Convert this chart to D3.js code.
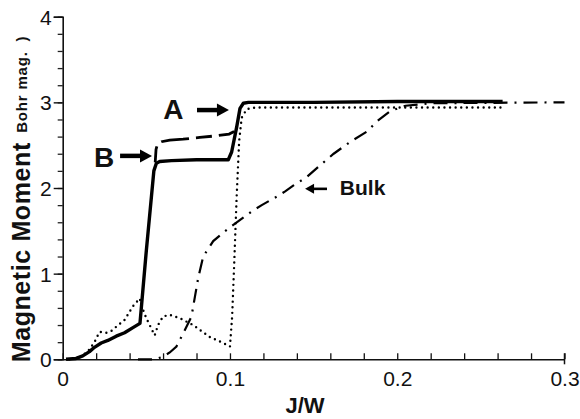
<!DOCTYPE html>
<html>
<head>
<meta charset="utf-8">
<script src="https://cdn.jsdelivr.net/npm/d3@7"></script>
<style>
  html, body { margin: 0; padding: 0; background: #fff; }
  svg { display: block; }
  text { font-family: "Liberation Sans", Arial, sans-serif; fill: #111; }
</style>
</head>
<body>
<div id="chart"></div>
<script>
const WIDTH = 580
const HEIGHT = 419

// curve A (solid)
const solidJ = [0.002, 0.008, 0.012, 0.016, 0.019, 0.023, 0.027, 0.032, 0.037, 0.042, 0.0462, 0.050, 0.0545, 0.056, 0.058, 0.065, 0.08, 0.099, 0.101, 0.104, 0.106, 0.108, 0.111, 0.15, 0.2, 0.263]
const solidM = [0, 0.01, 0.04, 0.09, 0.14, 0.19, 0.22, 0.27, 0.31, 0.37, 0.42, 1.27, 2.2, 2.29, 2.31, 2.32, 2.33, 2.33, 2.42, 2.71, 2.93, 2.99, 3.0, 3.0, 3.01, 3.01]

// curve B (dashed), splits from A at the first jump
const dashJ = [0.0553, 0.0558, 0.0568, 0.059, 0.064, 0.072, 0.082, 0.092, 0.0995, 0.1025]
const dashM = [2.3, 2.45, 2.52, 2.54, 2.56, 2.57, 2.59, 2.61, 2.63, 2.66]

// dotted curve
const dotJ = [0.004, 0.01, 0.015, 0.019, 0.022, 0.026, 0.029, 0.032, 0.037, 0.042, 0.046, 0.048, 0.05, 0.053, 0.055, 0.057, 0.06, 0.064, 0.07, 0.078, 0.088, 0.096, 0.1, 0.1013, 0.1025, 0.104, 0.1055, 0.107, 0.11, 0.115, 0.15, 0.2, 0.262]
const dotM = [0, 0.02, 0.09, 0.2, 0.32, 0.31, 0.33, 0.38, 0.46, 0.62, 0.71, 0.58, 0.48, 0.36, 0.28, 0.4, 0.5, 0.52, 0.48, 0.4, 0.26, 0.19, 0.15, 0.5, 1.1, 1.9, 2.55, 2.82, 2.92, 2.94, 2.94, 2.94, 2.94]

// bulk (dash-dot)
const bulkJ = [0.045, 0.055, 0.06, 0.064, 0.068, 0.072, 0.077, 0.081, 0.084, 0.09, 0.096, 0.102, 0.109, 0.114, 0.119, 0.128, 0.133, 0.138, 0.146, 0.153, 0.162, 0.172, 0.182, 0.188, 0.196, 0.205, 0.22, 0.3]
const bulkM = [0, 0, 0.03, 0.08, 0.15, 0.3, 0.5, 0.95, 1.2, 1.38, 1.48, 1.57, 1.67, 1.74, 1.8, 1.9, 1.96, 2.03, 2.13, 2.25, 2.4, 2.54, 2.66, 2.78, 2.9, 2.96, 2.99, 3.0]

const xTickLabels = [0, 0.1, 0.2, 0.3]
const yTickLabels = [0, 1, 2, 3, 4]

// labels with arrows: [text, textJ, textM, arrow from J, arrow to J, arrow M]
const notes = [
  ['A', 0.0662, 2.81, 0.0803, 0.0994, 2.91],
  ['B', 0.0247, 2.25, 0.0343, 0.0534, 2.375],
  ['Bulk', 0.1657, 1.92, 0.158, 0.1449, 1.99]
]

const x = d3.scaleLinear().domain([0, 0.3]).range([62.7, 564.5])
const y = d3.scaleLinear().domain([0, 4]).range([359.3, 16.7])

const svg = d3.select('#chart').append('svg')
  .attr('width', WIDTH)
  .attr('height', HEIGHT)

svg.append('rect').attr('width', WIDTH).attr('height', HEIGHT).attr('fill', '#fff')

// y axis: minor ticks every 0.2, major every 1
svg.append('g')
  .attr('transform', `translate(${x(0)},0)`)
  .call(d3.axisLeft(y).tickValues(d3.range(0, 4.01, 0.2)).tickSize(5).tickFormat(''))
  .call(g => g.select('.domain').remove())
  .selectAll('line').attr('stroke', '#222').attr('stroke-width', 1.3)

svg.append('g')
  .attr('transform', `translate(${x(0)},0)`)
  .call(d3.axisLeft(y).tickValues(yTickLabels).tickSize(9).tickPadding(2).tickFormat(d3.format('d')))
  .call(g => g.select('.domain').attr('stroke', '#111').attr('stroke-width', 1.6))
  .call(g => g.selectAll('line').attr('stroke', '#111').attr('stroke-width', 1.4))
  .call(g => g.selectAll('text').attr('font-size', 21).attr('dy', '0.36em').style('font-family', '"Liberation Sans", Arial, sans-serif'))

// x axis: ticks pointing into the plot
svg.append('g')
  .attr('transform', `translate(0,${y(0)})`)
  .call(d3.axisBottom(x).tickValues(d3.range(0, 0.301, 0.02)).tickSizeInner(-6).tickSizeOuter(0).tickFormat(''))
  .call(g => g.select('.domain').attr('stroke', '#111').attr('stroke-width', 1.6))
  .selectAll('line').attr('stroke', '#111').attr('stroke-width', 1.3)

svg.append('g')
  .attr('transform', `translate(0,${y(0)})`)
  .call(d3.axisBottom(x).tickValues(xTickLabels).tickSize(0).tickPadding(12).tickFormat(d => d === 0 ? '0' : d3.format('.1f')(d)))
  .call(g => g.select('.domain').remove())
  .call(g => g.selectAll('text').attr('font-size', 21).attr('dy', '0.71em').style('font-family', '"Liberation Sans", Arial, sans-serif'))

// end tick at 0.3 crosses the axis
svg.append('line')
  .attr('x1', x(0.3)).attr('x2', x(0.3))
  .attr('y1', y(0) - 6).attr('y2', y(0) + 5)
  .attr('stroke', '#111').attr('stroke-width', 1.5)

// axis titles
svg.append('text')
  .attr('transform', `translate(30,${y(1.25)}) rotate(-90)`)
  .attr('text-anchor', 'middle')
  .attr('font-size', 25).attr('font-weight', 'bold')
  .attr('letter-spacing', 0.6)
  .text('Magnetic Moment')

svg.append('text')
  .attr('transform', `translate(27,${y(3.12)}) rotate(-90)`)
  .attr('text-anchor', 'middle')
  .attr('font-size', 15).attr('font-weight', 'bold')
  .attr('letter-spacing', 0.8)
  .attr('xml:space', 'preserve')
  .text('(  Bohr mag.  )')

svg.append('text')
  .attr('x', 305).attr('y', 413)
  .attr('text-anchor', 'middle')
  .attr('font-size', 22).attr('font-weight', 'bold')
  .text('J/W')

// curves
const line = d3.line().x(d => x(d[0])).y(d => y(d[1]))
const pairs = (js, ms) => js.map((j, i) => [j, ms[i]])

const plot = svg.append('g').attr('fill', 'none').attr('stroke', '#000')

plot.append('path').datum(pairs(bulkJ, bulkM))
  .attr('d', line)
  .attr('stroke-width', 2.2)
  .attr('stroke-dasharray', '14,7,2,7')

plot.append('path').datum(pairs(dotJ, dotM))
  .attr('d', line)
  .attr('stroke-width', 2.4)
  .attr('stroke-linecap', 'round')
  .attr('stroke-dasharray', '0,5.6')

plot.append('path').datum(pairs(dashJ, dashM))
  .attr('d', line)
  .attr('stroke-width', 2.8)
  .attr('stroke-dasharray', '16,7,28,7')

plot.append('path').datum(pairs(solidJ, solidM))
  .attr('d', line)
  .attr('stroke-width', 3.4)
  .attr('stroke-linejoin', 'round')

// annotations
notes.forEach(n => {
  const isBulk = n[0] === 'Bulk'
  svg.append('text')
    .attr('x', x(n[1])).attr('y', y(n[2]))
    .attr('text-anchor', isBulk ? 'start' : 'middle')
    .attr('font-size', isBulk ? 21 : 28)
    .attr('font-weight', 'bold')
    .text(n[0])

  const x0 = x(n[3]), x1 = x(n[4]), yy = y(n[5])
  const dir = x1 > x0 ? 1 : -1
  const head = isBulk ? 9 : 12
  const half = isBulk ? 5 : 6.5
  svg.append('line')
    .attr('x1', x0).attr('x2', x1 - dir * head * 0.8)
    .attr('y1', yy).attr('y2', yy)
    .attr('stroke', '#000').attr('stroke-width', isBulk ? 2.6 : 4.5)
  svg.append('path')
    .attr('d', `M${x1},${yy}L${x1 - dir * head},${yy - half}L${x1 - dir * head},${yy + half}Z`)
    .attr('fill', '#000')
})
</script>
</body>
</html>
